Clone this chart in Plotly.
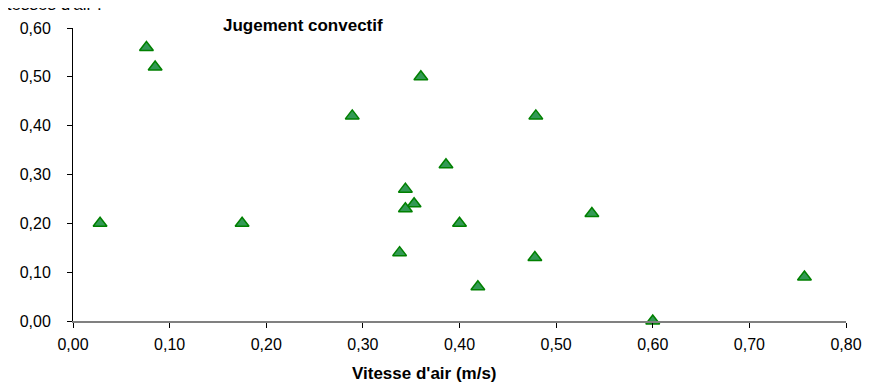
import plotly.graph_objects as go

# 1. Data
vitesse_air = [0.028, 0.076, 0.085, 0.175, 0.289, 0.360, 0.386, 0.344, 0.353, 0.344,
               0.338, 0.400, 0.479, 0.419, 0.478, 0.537, 0.600, 0.757]
jugement = [0.20, 0.56, 0.52, 0.20, 0.42, 0.50, 0.32, 0.27, 0.24, 0.23,
            0.14, 0.20, 0.42, 0.07, 0.13, 0.22, 0.00, 0.09]

x_ticks = [0, 0.1, 0.2, 0.3, 0.4, 0.5, 0.6, 0.7, 0.8]
y_ticks = [0, 0.1, 0.2, 0.3, 0.4, 0.5, 0.6]

font_family = 'Liberation Sans, Arial, sans-serif'

# 2. Scatter of triangles
fig = go.Figure(go.Scatter(
    x=vitesse_air,
    y=jugement,
    mode='markers',
    marker=dict(symbol='triangle-up', size=12, color='#339955',
                line=dict(color='#008000', width=1.5)),
    cliponaxis=False,
    showlegend=False,
))

# 3. Layout (page body has an 8px margin, so size and margins are reduced by 8)
fig.update_layout(
    width=866,
    height=377,
    margin=dict(l=57, r=17, t=14, b=64),
    plot_bgcolor='white',
    paper_bgcolor='white',
    separators=', ',
    font=dict(family=font_family, size=16, color='black'),
    annotations=[
        dict(text='<b>Jugement convectif</b>', x=0.297, y=1.009,
             xref='paper', yref='paper', xanchor='center', yanchor='middle',
             showarrow=False, font=dict(size=17)),
        dict(text="<b>Vitesse d'air (m/s)</b>", x=0.4545, y=-0.18,
             xref='paper', yref='paper', xanchor='center', yanchor='middle',
             showarrow=False, font=dict(size=17)),
        # header text, cut off at the top of the picture
        dict(text="Vitesses d'air :", x=(97 - 65) / 792, y=1.08,
             xref='paper', yref='paper', xanchor='right', yanchor='middle',
             showarrow=False, font=dict(size=17)),
    ],
)

fig.update_xaxes(
    range=[0, 0.8],
    tickmode='array',
    tickvals=x_ticks,
    tickformat='.2f',
    ticks='outside',
    ticklen=5,
    tickcolor='black',
    showline=True,
    linecolor='#808080',
    linewidth=2,
    showgrid=False,
    zeroline=False,
    ticklabelstandoff=3,
)
fig.update_yaxes(
    range=[0, 0.6],
    tickmode='array',
    tickvals=y_ticks,
    tickformat='.2f',
    ticks='outside',
    ticklen=5,
    tickcolor='black',
    showline=True,
    linecolor='black',
    linewidth=1,
    showgrid=False,
    zeroline=False,
    ticklabelstandoff=13,
)

fig.write_html('out.html')
